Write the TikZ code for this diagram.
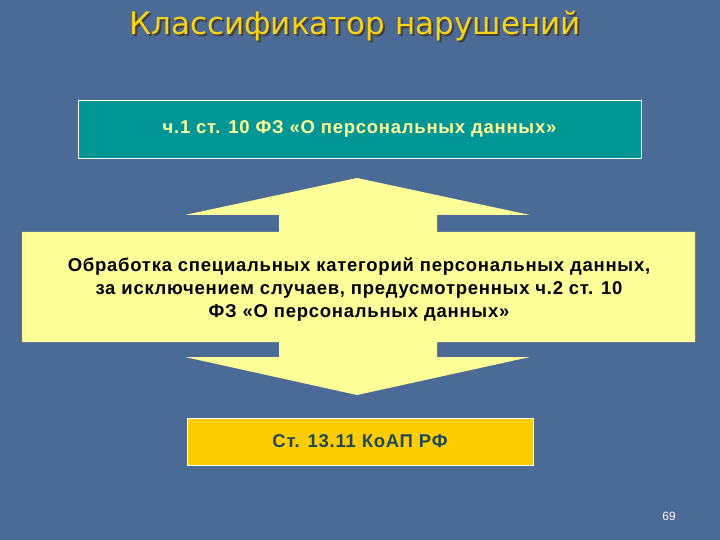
\documentclass[tikz,border=0pt]{standalone}
\usepackage{fontspec}
\setmainfont{Liberation Sans}
\newfontfamily\titlefont{DejaVu Sans}
\newfontfamily\boxfont[LetterSpace=4]{Liberation Sans Bold}
\definecolor{bgblue}{RGB}{76,106,150}
\definecolor{tealbox}{RGB}{0,150,150}
\definecolor{paleyellow}{RGB}{255,255,153}
\definecolor{goldbox}{RGB}{255,204,0}
\definecolor{titleyellow}{RGB}{248,212,24}
\definecolor{darkslate}{RGB}{32,72,84}

\begin{document}
\begin{tikzpicture}[x=1bp,y=-1bp]
            \fill[bgblue] (0,0) rectangle (720,540);
            \node[text=black!75, font=\titlefont\fontsize{31bp}{36bp}\selectfont] (titleshadow) at (357,28) {Классификатор нарушений};
            \node[text=titleyellow, font=\titlefont\fontsize{31bp}{36bp}\selectfont] (title) at (355,26) {Классификатор нарушений};
            \node[draw=white, fill=tealbox, minimum width=563bp, minimum height=58bp, text=paleyellow, font=\boxfont\fontsize{18.5bp}{21bp}\selectfont] (law) at (359.5,129) {ч.1 ст. 10 ФЗ «О персональных данных»};
            \fill[paleyellow] (357,178) -- (530,215) -- (437,215) -- (437,232) -- (695,232) -- (695,342) -- (437,342) -- (437,357) -- (530,357) -- (357,395) -- (185,357) -- (279,357) -- (279,342) -- (22,342) -- (22,232) -- (279,232) -- (279,215) -- (185,215) -- cycle;
            \node[align=center, font=\boxfont\fontsize{18.5bp}{23bp}\selectfont] (offence) at (359,290) {Обработка специальных категорий персональных данных,\\за исключением случаев, предусмотренных ч.2 ст. 10\\ФЗ «О персональных данных»};
            \node[draw=white, fill=goldbox, minimum width=346bp, minimum height=47bp, text=darkslate, font=\boxfont\fontsize{18.5bp}{21bp}\selectfont] (koap) at (360,441.5) {Ст. 13.11 КоАП РФ};
            \node[text=white, font=\fontsize{12bp}{14bp}\selectfont] (page) at (669,516) {69};
        \end{tikzpicture}
\end{document}
